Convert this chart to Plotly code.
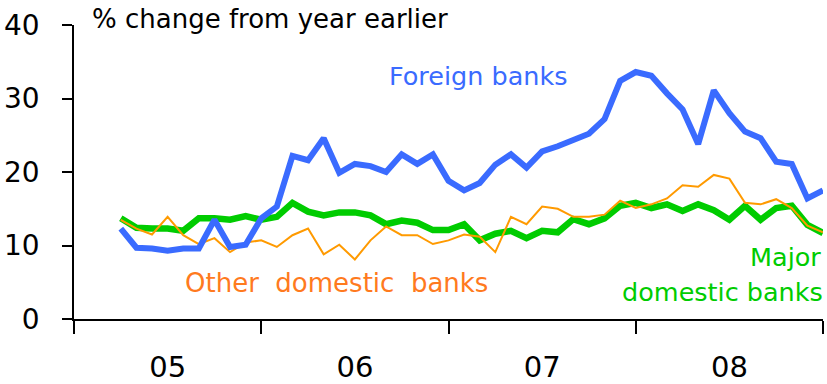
import plotly.graph_objects as go

# Monthly observations, March 2005 to December 2008 (month-end positions)
start_year = 2005
first_month = 3
years = ["05", "06", "07", "08"]

foreign_banks = [
    12.3, 9.7, 9.6, 9.3, 9.6, 9.6, 13.5, 9.8, 10.1, 13.7,
    15.3, 22.2, 21.6, 24.6, 19.9, 21.1, 20.8, 20.0, 22.4, 21.1,
    22.4, 18.8, 17.5, 18.5, 21.0, 22.4, 20.6, 22.8, 23.5, 24.3,
    25.2, 27.2, 32.4, 33.6, 33.1, 30.7, 28.5, 23.8, 31.1, 28.0,
    25.5, 24.6, 21.4, 21.1, 16.4, 17.5,
]
major_domestic = [
    13.7, 12.4, 12.3, 12.3, 12.0, 13.7, 13.7, 13.5, 14.0, 13.5,
    13.9, 15.8, 14.6, 14.1, 14.5, 14.5, 14.1, 12.9, 13.4, 13.1,
    12.1, 12.1, 12.9, 10.7, 11.6, 12.0, 11.0, 12.0, 11.8, 13.6,
    12.9, 13.7, 15.4, 15.8, 15.1, 15.6, 14.7, 15.6, 14.8, 13.5,
    15.4, 13.5, 15.1, 15.4, 12.8, 11.7,
]
other_domestic = [
    13.5, 12.3, 11.5, 13.9, 11.4, 10.2, 11.0, 9.1, 10.4, 10.7,
    9.8, 11.4, 12.3, 8.8, 10.1, 8.1, 10.7, 12.6, 11.4, 11.4,
    10.2, 10.7, 11.5, 11.2, 9.1, 13.9, 12.9, 15.3, 15.0, 13.9,
    13.9, 14.2, 16.1, 15.1, 15.6, 16.4, 18.2, 18.0, 19.6, 19.1,
    15.8, 15.6, 16.3, 15.1, 12.7, 11.8,
]

x = [start_year + (first_month + i) / 12 for i in range(len(foreign_banks))]

BLUE = "#3A6BFF"
GREEN = "#00CC00"
ORANGE = "#FF9A00"
ORANGE_TEXT = "#FF7A1E"
FONT = "DejaVu Sans"

fig = go.Figure()
fig.add_trace(go.Scatter(x=x, y=major_domestic, mode="lines",
                         line=dict(color=GREEN, width=6.5), showlegend=False))
fig.add_trace(go.Scatter(x=x, y=other_domestic, mode="lines",
                         line=dict(color=ORANGE, width=2), showlegend=False))
fig.add_trace(go.Scatter(x=x, y=foreign_banks, mode="lines",
                         line=dict(color=BLUE, width=6), showlegend=False))

year_starts = [start_year + i for i in range(len(years) + 1)]
year_mids = [start_year + i + 0.5 for i in range(len(years))]

fig.update_layout(
    width=827, height=384,
    margin=dict(l=74, r=4, t=25, b=65),
    plot_bgcolor="white", paper_bgcolor="white",
    font=dict(family=FONT, size=25, color="black"),
    xaxis=dict(
        range=[start_year, start_year + len(years)],
        tickmode="array", tickvals=year_mids, ticktext=years,
        ticks="", showgrid=False, zeroline=False, automargin=False,
        showline=True, linecolor="black", linewidth=1.5,
        ticklabelstandoff=21,
        tickfont=dict(family=FONT, size=29, color="black"),
        minor=dict(tickmode="array", tickvals=year_starts, ticks="outside",
                   ticklen=13, tickwidth=1.5, tickcolor="black", showgrid=False),
    ),
    yaxis=dict(
        range=[0, 40], tickvals=[0, 10, 20, 30, 40],
        ticks="outside", ticklen=10, tickwidth=1.5, tickcolor="black",
        showgrid=False, zeroline=False, automargin=False,
        showline=True, linecolor="black", linewidth=1.5,
        ticklabelstandoff=17,
        tickfont=dict(family=FONT, size=28, color="black"),
    ),
)

annotations = [
    dict(text="% change from year earlier", x=0.0214, y=1.022,
         xanchor="left", yanchor="middle", font=dict(size=26, color="black")),
    dict(text="Foreign banks", x=0.5394, y=0.8265,
         xanchor="center", yanchor="middle", font=dict(size=25.5, color=BLUE)),
    dict(text="Other\u00a0\u00a0domestic\u00a0\u00a0banks", x=0.3498, y=0.1224,
         xanchor="center", yanchor="middle", font=dict(size=26, color=ORANGE_TEXT)),
    dict(text="Major", x=1.0, y=0.2109,
         xanchor="right", yanchor="middle", font=dict(size=25.5, color=GREEN)),
    dict(text="domestic banks", x=1.0027, y=0.0918,
         xanchor="right", yanchor="middle", font=dict(size=25.5, color=GREEN)),
]
for a in annotations:
    fig.add_annotation(xref="paper", yref="paper", showarrow=False, **a)

fig.write_html("out.html")
